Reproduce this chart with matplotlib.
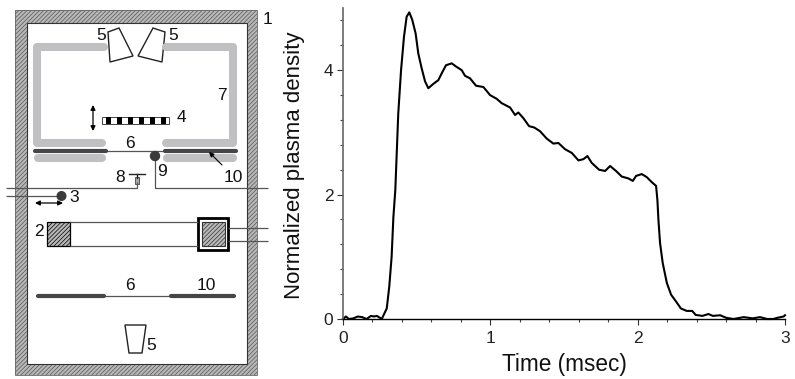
import matplotlib
matplotlib.use("Agg")
import matplotlib.pyplot as plt
from matplotlib.patches import Rectangle, Polygon, Circle

plt.rcParams["font.family"] = ["Liberation Sans", "DejaVu Sans"]
plt.rcParams["hatch.linewidth"] = 0.5

# Plasma density trace
time_ms = [0.0, 0.02, 0.04, 0.07, 0.1, 0.13, 0.16, 0.19, 0.21, 0.23, 0.263, 0.297, 0.314, 0.33, 0.342, 0.355,
           0.375, 0.394, 0.414, 0.432, 0.45, 0.47, 0.493, 0.511, 0.534, 0.557, 0.579, 0.613, 0.647, 0.67,
           0.699, 0.738, 0.767, 0.806, 0.828, 0.862, 0.903, 0.953, 0.998, 1.043, 1.077, 1.134, 1.168, 1.19,
           1.224, 1.263, 1.297, 1.337, 1.383, 1.428, 1.462, 1.507, 1.553, 1.598, 1.632, 1.659, 1.688, 1.738,
           1.779, 1.813, 1.853, 1.892, 1.937, 1.967, 1.989, 2.028, 2.062, 2.096, 2.125, 2.134, 2.141, 2.152,
           2.17, 2.198, 2.227, 2.261, 2.293, 2.333, 2.37, 2.394, 2.44, 2.48, 2.51, 2.56, 2.6, 2.65, 2.72,
           2.78, 2.83, 2.88, 2.92, 2.95, 2.99, 3.0]
density = [0.0, 0.04, 0.0, 0.01, 0.04, 0.03, 0.0, 0.05, 0.04, 0.05, 0.0, 0.17, 0.52, 1.0, 1.64, 2.07,
           3.3, 4.0, 4.54, 4.86, 4.93, 4.81, 4.59, 4.27, 4.03, 3.82, 3.71, 3.78, 3.84, 3.95,
           4.08, 4.11, 4.06, 4.0, 3.91, 3.87, 3.75, 3.73, 3.6, 3.54, 3.47, 3.4, 3.28, 3.32,
           3.23, 3.1, 3.08, 3.02, 2.9, 2.82, 2.83, 2.73, 2.67, 2.55, 2.57, 2.62, 2.51, 2.4,
           2.38, 2.46, 2.38, 2.29, 2.26, 2.22, 2.3, 2.33, 2.28, 2.2, 2.14, 1.91, 1.59, 1.22,
           0.9, 0.58, 0.39, 0.28, 0.17, 0.13, 0.13, 0.065, 0.05, 0.08, 0.05, 0.06, 0.02, 0.0, 0.03,
           0.01, 0.03, 0.0, 0.0, 0.02, 0.04, 0.06]
x_major = [0, 1, 2, 3]
y_major = [0, 2, 4]
x_minor = [0.2, 0.4, 0.6, 0.8, 1.2, 1.4, 1.6, 1.8, 2.2, 2.4, 2.6, 2.8]
y_minor = [0.4, 0.8, 1.2, 1.6, 2.4, 2.8, 3.2, 3.6, 4.4, 4.8]

# Schematic parts, in picture pixels
wall_outer = (15, 10, 257, 375)
wall_inner = (27, 23, 247, 364)
coil_paths = [
    ([104, 37, 37, 102], [47, 47, 143, 143]),
    ([166, 233, 233, 166], [47, 47, 143, 143]),
    ([38, 102], [158, 158]),
    ([167, 233], [158, 158]),
]
plates_dark = [([35, 106], [151, 151]), ([165, 236], [151, 151]), ([38, 104], [296, 296]), ([171, 234], [296, 296])]
thin_lines = [
    ([106, 165], [151, 151]),
    ([105, 169], [296, 296]),
    ([155, 155, 268], [156, 188, 188]),
    ([6, 137, 137], [188, 188, 182]),
    ([6, 61], [196, 196]),
    ([70, 198], [222, 222]),
    ([70, 198], [246, 246]),
    ([228, 268], [228, 228]),
    ([228, 268], [241, 241]),
]
horns = [
    [(108, 32), (119, 28), (133, 56), (110, 62)],
    [(153, 28), (165, 32), (162, 62), (138, 56)],
    [(125, 325), (146, 325), (142, 353), (129, 353)],
]
grid_blacks = [106, 117, 128, 139, 150, 161]
labels = [("1", 268, 20), ("5", 101, 35), ("5", 173, 35), ("7", 222, 95), ("4", 181, 118), ("6", 130, 143),
          ("9", 162, 171), ("10", 233, 177), ("8", 120, 178), ("3", 74, 198), ("2", 39, 231), ("6", 130, 286),
          ("10", 206, 286), ("5", 151, 345)]

fig = plt.figure(figsize=(7.95, 3.79), dpi=100)

# Schematic on the left, drawn over the whole figure in pixels
sk = fig.add_axes([0, 0, 1, 1])
sk.set_xlim(0, 795)
sk.set_ylim(379, 0)
sk.axis("off")

x0, y0, x1, y1 = wall_outer
xi0, yi0, xi1, yi1 = wall_inner
for r in [(x0, y0, xi0 - x0, y1 - y0), (xi1, y0, x1 - xi1, y1 - y0), (xi0, y0, xi1 - xi0, yi0 - y0), (xi0, yi1, xi1 - xi0, y1 - yi1)]:
    sk.add_patch(Rectangle(r[:2], r[2], r[3], facecolor="#b8b8b8", edgecolor="#555555", hatch="////////", lw=0))
sk.add_patch(Rectangle((x0, y0), x1 - x0, y1 - y0, fill=False, edgecolor="#666666", lw=0.6))
sk.add_patch(Rectangle((xi0, yi0), xi1 - xi0, yi1 - yi0, fill=False, edgecolor="#333333", lw=0.8))

for xs, ys in coil_paths:
    sk.plot(xs, ys, color="#c0bfc1", lw=5.8, solid_capstyle="round", solid_joinstyle="round")
for xs, ys in thin_lines:
    sk.plot(xs, ys, color="#555555", lw=0.9, solid_capstyle="butt")
for xs, ys in plates_dark:
    sk.plot(xs, ys, color="#454545", lw=3, solid_capstyle="round")

for pts in horns:
    sk.add_patch(Polygon(pts, closed=True, facecolor="white", edgecolor="#222222", lw=1))

# grid 4 with its blocks
sk.add_patch(Rectangle((102, 117), 67, 7, facecolor="white", edgecolor="#444444", lw=0.7))
for gx in grid_blacks:
    sk.add_patch(Rectangle((gx, 117), 5, 7, facecolor="black", edgecolor="none"))

sk.add_patch(Circle((155, 156), 4.5, color="#3a3a3a", zorder=4))
sk.add_patch(Circle((61.5, 196), 4.3, color="#3a3a3a", zorder=4))

# magnetron, source and probe 8
sk.add_patch(Rectangle((47, 222), 23, 24, facecolor="#b8b8b8", edgecolor="black", hatch="////////", lw=0.9))
sk.add_patch(Rectangle((202, 222), 23, 24, facecolor="#b8b8b8", edgecolor="#333333", hatch="////////", lw=0.8))
sk.add_patch(Rectangle((198, 218), 30, 32, fill=False, edgecolor="black", lw=2))
sk.plot([129, 145], [174, 174], color="#222222", lw=1)
sk.plot([137, 137], [174, 178], color="#222222", lw=1)
sk.add_patch(Rectangle((134.5, 177), 4.5, 7, facecolor="#aaaaaa", edgecolor="#444444", lw=0.6))

arrow = dict(arrowstyle="<|-|>", color="black", lw=0.9, mutation_scale=7, shrinkA=0, shrinkB=0)
sk.annotate("", xy=(35, 203), xytext=(63, 203), arrowprops=arrow)
sk.annotate("", xy=(93, 105), xytext=(93, 131), arrowprops=arrow)
sk.annotate("", xy=(209, 152), xytext=(222, 165),
            arrowprops=dict(arrowstyle="-|>", color="black", lw=0.8, mutation_scale=7, shrinkA=0, shrinkB=0))

for txt, lx, ly in labels:
    sk.text(lx, ly, txt, fontsize=12.5, ha="center", va="center", color="#111111")

# Density plot on the right
ax = fig.add_axes([343 / 795, 1 - 319 / 379, (785 - 343) / 795, (319 - 8) / 379])
ax.patch.set_alpha(0)
ax.plot(time_ms, density, color="black", lw=1.5, clip_on=False, solid_joinstyle="round")
ax.set_xlim(0, 3)
ax.set_ylim(0, 5)
ax.spines["top"].set_visible(False)
ax.spines["right"].set_visible(False)
ax.spines["left"].set_color("#666666")
ax.spines["left"].set_linewidth(1.2)
ax.spines["bottom"].set_linewidth(1)
ax.set_xticks(x_major)
ax.set_yticks(y_major)
ax.set_xticks(x_minor, minor=True)
ax.set_yticks(y_minor, minor=True)
ax.tick_params(which="major", length=4, width=0.8, labelsize=12.5, pad=3, color="#333333", labelcolor="#222222")
ax.tick_params(axis="x", which="major", pad=4.5)
ax.tick_params(which="minor", length=2.5, width=0.8, color="#444444")
ax.set_xlabel("Time (msec)", fontsize=16.3, color="#111111")
ax.set_ylabel("Normalized plasma density", fontsize=16, color="#111111")
ax.xaxis.set_label_coords(0.501, -0.109)
ax.yaxis.set_label_coords(-0.086, 0.495)

fig.savefig("out.png", dpi=100)
